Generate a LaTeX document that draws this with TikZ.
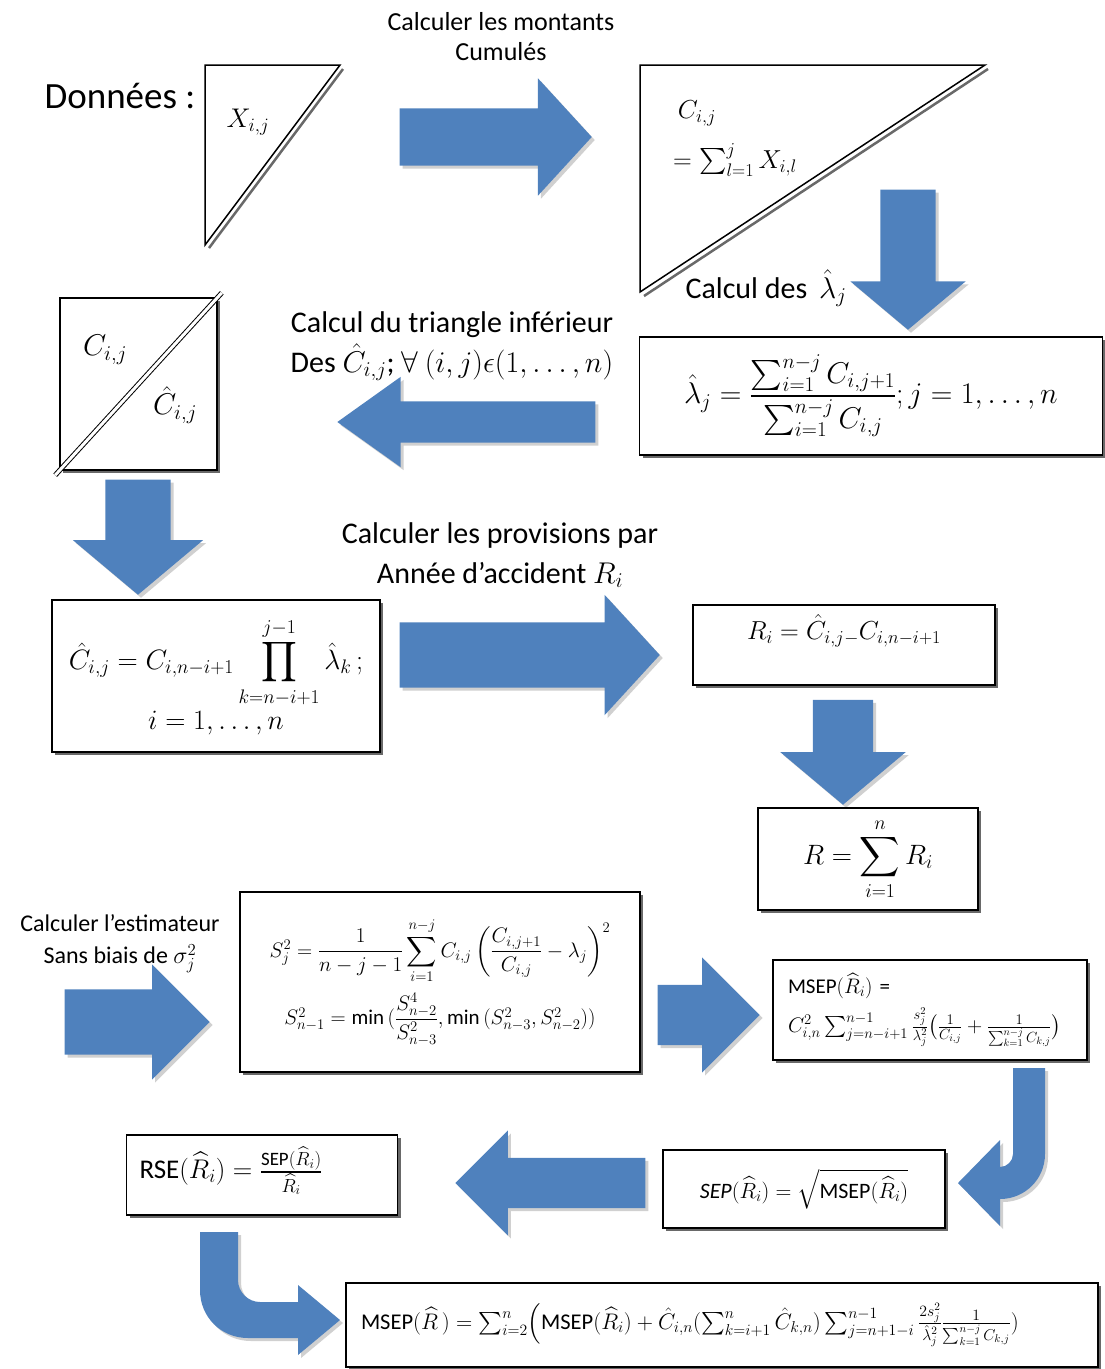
\RequirePackage{fix-cm}
\documentclass[tikz,border=0pt]{standalone}
\usepackage{amsmath,amssymb}
\usepackage{fontspec}
\setmainfont{Carlito}
\usepackage{tikz}
\usetikzlibrary{shapes.arrows,shadows,positioning,calc}
\definecolor{flowBlue}{RGB}{79,129,189}
\definecolor{flowShade}{RGB}{208,208,208}
\definecolor{flowGray}{RGB}{105,105,105}
\newcommand{\fsz}[1]{\fontsize{#1}{#1}\selectfont}

\begin{document}
\begin{tikzpicture}[x=1pt,y=-1pt,
  box/.style={draw=black, line width=1.5pt, fill=white, inner sep=0pt,
    drop shadow={shadow xshift=3pt, shadow yshift=-3pt, fill=flowGray, opacity=1}},
  bigarrow/.style n args={4}{single arrow, fill=flowBlue, inner sep=0pt, inner ysep=#3,
    minimum height=#1, minimum width=0pt, single arrow head extend=#2, single arrow tip angle=#4,
    drop shadow={shadow xshift=3pt, shadow yshift=-3pt, fill=flowShade, opacity=1}},
  bendarrow/.style={fill=flowBlue, drop shadow={shadow xshift=3pt, shadow yshift=-3pt, fill=flowShade, opacity=1}},
  lbl/.style={align=center, inner sep=0pt}]
\useasboundingbox (0,0) rectangle (1105,1369);

% data triangles
\node[lbl, font=\fsz{37}] (donnees) at (120,96) {Données :};
\draw[flowGray, line width=2.5pt] (343,69) -- (209,248);
\draw[line width=1.5pt, fill=white] (205,65) coordinate (tx1) -- (340,65) coordinate (tx2) -- (205,245) coordinate (tx3) -- cycle;
\node[font=\fsz{27}] (xij) at (248,122) {$X_{i,j}$};
\node[lbl, font=\fontsize{26}{30}\selectfont] (cumulLbl) at (501,37) {Calculer les montants\\Cumulés};
\node[bigarrow={192}{30pt}{28.5pt}{95}, anchor=tip] (arrCumul) at (592,137) {};

\draw[flowGray, line width=2.5pt] (988,69) -- (644,296);
\draw[line width=1.5pt, fill=white] (640,65) coordinate (tc1) -- (985,65) coordinate (tc2) -- (640,292) coordinate (tc3) -- cycle;
\node[font=\fsz{26}] (cij) at (697,113) {$C_{i,j}$};
\node[font=\fsz{26}] (cumsum) at (735,160) {$=\sum_{l=1}^{j} X_{i,l}$};

\node[bigarrow={140}{30pt}{27.5pt}{100}, rotate=-90, anchor=tip] (arrLambda) at (908,330) {};
\node[lbl, font=\fsz{30}] (lambdaLbl) at (766,288) {Calcul des \,$\hat{\lambda}_j$};

\node[box, minimum width=463, minimum height=118, font=\fsz{30}] (boxLambda) at (871,396)
  {$\hat{\lambda}_j = \dfrac{\sum_{i=1}^{n-j} C_{i,j+1}}{\sum_{i=1}^{n-j} C_{i,j}}; j = 1, \dots, n$};

% lower triangle
\node[box, minimum width=157, minimum height=172] (boxSplit) at (138.5,384) {};
\draw[line width=1pt, double=white, double distance=3pt, shorten <=-6pt, shorten >=-6pt]
  (boxSplit.south west) -- (boxSplit.north east);
\node[font=\fsz{30}] (cijUp) at (105,350) {$C_{i,j}$};
\node[font=\fsz{30}] (cijLow) at (175,405) {$\hat{C}_{i,j}$};
\node[lbl, font=\fontsize{30}{40}\selectfont] (infLbl) at (452,346)
  {Calcul du triangle inférieur\\Des $\hat{C}_{i,j}$; $\forall$ $(i,j)\epsilon(1,\dots,n)$};
\node[bigarrow={258}{24.5pt}{20.5pt}{71}, rotate=180, anchor=tip] (arrInf) at (337,422) {};

\node[bigarrow={115}{32.5pt}{32.5pt}{100}, rotate=-90, anchor=tip] (arrChat) at (138,595) {};
\node[box, minimum width=328, minimum height=152, align=center, font=\fsz{28}] (boxChat) at (216,676)
  {$\hat{C}_{i,j} = C_{i,n-i+1} \displaystyle\prod_{k=n-i+1}^{j-1} \hat{\lambda}_k\,;$\\[2pt] $i = 1, \dots, n$};

% reserves
\node[lbl, font=\fontsize{30}{40}\selectfont] (provLbl) at (500,555)
  {Calculer les provisions par\\Année d’accident $R_i$};
\node[bigarrow={260}{27.5pt}{32.5pt}{95}, anchor=tip] (arrProv) at (660,655) {};
\node[box, minimum width=302, minimum height=80, font=\fsz{26}, text depth=36pt] (boxRi) at (844,645)
  {$R_i = \hat{C}_{i,j}{}_{-}C_{i,n-i+1}$};
\node[bigarrow={105}{32.5pt}{30pt}{100}, rotate=-90, anchor=tip] (arrSum) at (843,805) {};
\node[box, minimum width=220, minimum height=102, font=\fsz{28}] (boxR) at (868,859)
  {$R = \displaystyle\sum_{i=1}^{n} R_i$};

% variance
\node[lbl, font=\fontsize{24}{32}\selectfont] (estimLbl) at (120,944)
  {Calculer l’estimateur\\Sans biais de $\sigma_j^2$};
\node[bigarrow={145}{25pt}{32.5pt}{90}, anchor=tip] (arrEstim) at (210,1022) {};
\node[box, minimum width=400, minimum height=180, align=center, font=\fsz{21}] (boxS) at (440,982)
  {$S_j^2 = \dfrac{1}{n-j-1}\displaystyle\sum_{i=1}^{n-j} C_{i,j}\left(\dfrac{C_{i,j+1}}{C_{i,j}} - \lambda_j\right)^{2}$\\[8pt]
   $S_{n-1}^2 = \min\,(\dfrac{S_{n-2}^4}{S_{n-3}^2}, \min\,(S_{n-3}^2, S_{n-2}^2))$};
\node[bigarrow={102}{27.5pt}{30pt}{90}, anchor=tip] (arrMsepi) at (760,1015) {};
\node[box, minimum width=314, minimum height=100, text width=284, align=left, font=\fsz{21}] (boxMsepi) at (930,1010)
  {MSEP$(\widehat{R}_i)$ =\\[8pt]
   $C_{i,n}^2 \sum_{j=n-i+1}^{n-1} \frac{s_j^2}{\lambda_j^2}\bigl(\frac{1}{C_{i,j}} + \frac{1}{\sum_{k=1}^{n-j} C_{k,j}}\bigr)$};

\fill[bendarrow] (1013,1068) -- (1045,1068) -- (1045,1154) .. controls (1045,1179) and (1025,1199) .. (1000,1199)
  -- (1000,1226) -- (958,1183) -- (1000,1140) -- (1000,1167) .. controls (1007,1167) and (1013,1161) .. (1013,1154) -- cycle;

\node[box, minimum width=282, minimum height=78, font=\fsz{22}] (boxSep) at (804,1189)
  {$\mathit{SEP}(\widehat{R}_i) = \sqrt{\text{MSEP}(\widehat{R}_i)}$};
\node[bigarrow={190}{27.5pt}{25pt}{90}, rotate=180, anchor=tip] (arrRse) at (455,1183) {};
\node[box, minimum width=271, minimum height=80, text width=245, align=left, font=\fsz{27}, text depth=24pt] (boxRse) at (262,1175)
  {RSE$(\widehat{R}_i) = \frac{\text{SEP}(\widehat{R}_i)}{\widehat{R}_i}$};

\fill[bendarrow] (200,1232) -- (238,1232) -- (238,1280) .. controls (238,1292) and (248,1302) .. (260,1302)
  -- (298,1302) -- (298,1285) -- (340,1320) -- (298,1355) -- (298,1338) -- (248,1338)
  .. controls (221,1338) and (200,1317) .. (200,1290) -- cycle;

\node[box, minimum width=752, minimum height=84, text width=722, align=left, font=\fsz{22.5}] (boxMsep) at (722,1325)
  {MSEP$(\widehat{R}\,) = \sum_{i=2}^{n}\Bigl(\text{MSEP}(\widehat{R}_i) + \hat{C}_{i,n}(\sum_{k=i+1}^{n}\hat{C}_{k,n})\sum_{j=n+1-i}^{n-1}\frac{2s_j^2}{\hat{\lambda}_j^2}\frac{1}{\sum_{k=1}^{n-j}C_{k,j}})$};
\end{tikzpicture}
\end{document}
